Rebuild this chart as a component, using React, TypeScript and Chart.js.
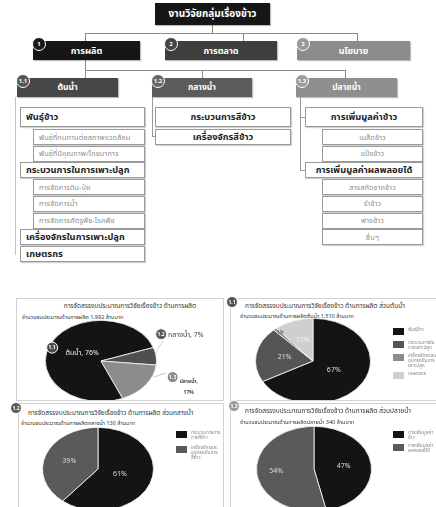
import React, { useEffect, useRef } from "react";
import { Chart, registerables } from "chart.js";

Chart.register(...registerables);

const FONT = '"Noto Sans Thai", "Noto Sans", "DejaVu Sans", sans-serif';

// Production budget split by stage (percent)
const prodParts = ["ต้นน้ำ", "กลางน้ำ", "ปลายน้ำ"];
const prodBadges = ["1.1", "1.2", "1.3"];
const prodShare = [76, 7, 17];

// Upstream split (percent); legend lines per item
const upLegend = [["พันธุ์ข้าว"], ["กระบวนการใน", "การเพาะปลูก"], ["เครื่องจักรกลและ", "อุปกรณ์ในการ", "เพาะปลูก"], ["เกษตรกร"]];
const upShare = [67, 21, 1, 11];

// Midstream split (percent)
const midLegend = [["กระบวนการการ", "การสีข้าว"], ["เครื่องจักรและ", "อุปกรณ์ในการ", "สีข้าว"]];
const midShare = [61, 39];

// Downstream split (percent)
const downLegend = [["การเพิ่มมูลค่า", "ข้าว"], ["การเพิ่มมูลค่า", "ผลพลอยได้"]];
const downShare = [47, 54];

// Budget totals (million baht)
const totalProd = "1,992";
const totalUp = "1,510";
const totalMid = "130";
const totalDown = "340";

// Org chart item lists
const upItems: [string, boolean][] = [
  ["พันธุ์ข้าว", true],
  ["พันธุ์ที่ทนทานต่อสภาพแวดล้อม", false],
  ["พันธุ์ที่มีคุณภาพ/โภชนาการ", false],
  ["กระบวนการในการเพาะปลูก", true],
  ["การจัดการดิน-ปุ๋ย", false],
  ["การจัดการน้ำ", false],
  ["การจัดการศัตรูพืช-โรคพืช", false],
  ["เครื่องจักรในการเพาะปลูก", true],
  ["เกษตรกร", true],
];
const midItems = ["กระบวนการสีข้าว", "เครื่องจักรสีข้าว"];
const downItems: [string, boolean][] = [
  ["การเพิ่มมูลค่าข้าว", true],
  ["เมล็ดข้าว", false],
  ["แป้งข้าว", false],
  ["การเพิ่มมูลค่าผลพลอยได้", true],
  ["สารสกัดจากข้าว", false],
  ["รำข้าว", false],
  ["ฟางข้าว", false],
  ["อื่นๆ", false],
];

type Arc = { x: number; y: number; startAngle: number; endAngle: number; outerRadius: number };

function arcPoint(a: Arc, f: number, k: number) {
  const mid = (a.startAngle + a.endAngle) / 2;
  return { x: a.x + Math.cos(mid) * a.outerRadius * f, y: a.y + Math.sin(mid) * a.outerRadius * f * k };
}

function badge(ctx: CanvasRenderingContext2D, x: number, y: number, r: number, fill: string, text: string) {
  ctx.beginPath();
  ctx.arc(x, y, r, 0, Math.PI * 2);
  ctx.fillStyle = fill;
  ctx.fill();
  ctx.lineWidth = 1;
  ctx.strokeStyle = "#ffffff";
  ctx.stroke();
  ctx.fillStyle = "#ffffff";
  ctx.font = `bold 5px ${FONT}`;
  ctx.textAlign = "center";
  ctx.textBaseline = "middle";
  ctx.fillText(text, x, y + 0.5);
}

type PieProps = {
  values: number[];
  colors: string[];
  rotation: number;
  cx: number;
  cy: number;
  rx: number;
  ry: number;
  width: number;
  height: number;
  drawLabels: (ctx: CanvasRenderingContext2D, arcs: Arc[], k: number) => void;
};

function PieCanvas({ values, colors, rotation, cx, cy, rx, ry, width, height, drawLabels }: PieProps) {
  const ref = useRef<HTMLCanvasElement>(null);
  useEffect(() => {
    const k = ry / rx;
    // flattens the pie into an ellipse around its centre; labels are drawn unflattened
    const squash = {
      id: "squash",
      beforeDatasetsDraw(chart: any) {
        const a: any = chart.getDatasetMeta(0).data[0];
        const ctx = chart.ctx;
        ctx.save();
        ctx.translate(a.x, a.y);
        ctx.scale(1, k);
        ctx.translate(-a.x, -a.y);
      },
      afterDatasetsDraw(chart: any) {
        chart.ctx.restore();
        drawLabels(chart.ctx, chart.getDatasetMeta(0).data as Arc[], k);
      },
    };
    const chart = new Chart(ref.current!, {
      type: "pie",
      data: {
        labels: values.map((_, i) => String(i + 1)),
        datasets: [{ data: values, backgroundColor: colors, borderColor: "#f2f2f2", borderWidth: 1 }],
      },
      options: {
        responsive: false,
        animation: false,
        rotation,
        events: [],
        layout: { padding: { left: cx - rx, right: width - cx - rx, top: cy - rx, bottom: height - cy - rx } },
        plugins: { legend: { display: false }, tooltip: { enabled: false } },
      },
      plugins: [squash],
    });
    return () => chart.destroy();
  }, []);
  return (
    <canvas
      ref={ref}
      width={width}
      height={height}
      style={{ position: "absolute", left: 0, top: 0, width, height }}
    />
  );
}

function insideLabels(texts: string[], colors: string[], factors: number[], sizes: number[]) {
  return (ctx: CanvasRenderingContext2D, arcs: Arc[], k: number) => {
    arcs.forEach((a, i) => {
      const p = arcPoint(a, factors[i], k);
      ctx.font = `${sizes[i]}px ${FONT}`;
      ctx.fillStyle = colors[i];
      ctx.textAlign = "center";
      ctx.textBaseline = "middle";
      ctx.fillText(texts[i], p.x, p.y);
    });
  };
}

// Callout labels for the overall production pie
const prodBadgeColors = ["#4a4a4a", "#5a5a5a", "#8a8a8a"];
function prodLabels(ctx: CanvasRenderingContext2D, arcs: Arc[], k: number) {
  // upstream: white label inside the large slice
  const p0 = arcPoint(arcs[0], 0.45, k);
  ctx.font = `7px ${FONT}`;
  ctx.textAlign = "center";
  ctx.textBaseline = "middle";
  ctx.fillStyle = "#f0f0f0";
  ctx.fillText(`${prodParts[0]}, ${prodShare[0]}%`, p0.x + 4, p0.y);
  badge(ctx, p0.x - 26, p0.y - 6, 5.5, prodBadgeColors[0], prodBadges[0]);

  // midstream: leader line to a label above right
  const e1 = arcPoint(arcs[1], 1, k);
  ctx.strokeStyle = "#c8c8c8";
  ctx.lineWidth = 0.8;
  ctx.beginPath();
  ctx.moveTo(e1.x - 1, e1.y - 2);
  ctx.lineTo(e1.x + 7, e1.y - 16);
  ctx.stroke();
  ctx.font = `7px ${FONT}`;
  ctx.textAlign = "left";
  ctx.fillStyle = "#444";
  ctx.fillText(`${prodParts[1]}, ${prodShare[1]}%`, e1.x + 12, e1.y - 21);
  badge(ctx, e1.x + 5, e1.y - 22, 5.5, prodBadgeColors[1], prodBadges[1]);

  // downstream: leader line to a two-line label to the right
  const e2 = arcPoint(arcs[2], 1, k);
  ctx.strokeStyle = "#c8c8c8";
  ctx.beginPath();
  ctx.moveTo(e2.x + 8, e2.y - 8);
  ctx.lineTo(e2.x + 20, e2.y - 12);
  ctx.stroke();
  ctx.fillStyle = "#444";
  ctx.textAlign = "left";
  ctx.fillText(`${prodParts[2]},`, e2.x + 34, e2.y - 3);
  ctx.textAlign = "center";
  ctx.fillText(`${prodShare[2]}%`, e2.x + 43, e2.y + 8);
  badge(ctx, e2.x + 27, e2.y - 8, 5.5, prodBadgeColors[2], prodBadges[2]);
}

const S: Record<string, React.CSSProperties> = {
  abs: { position: "absolute", boxSizing: "border-box" },
};

function Line({ x, y, w, h, c = "#8a8a8a" }: { x: number; y: number; w: number; h: number; c?: string }) {
  return <div style={{ ...S.abs, left: x, top: y, width: w, height: h, background: c }} />;
}

function Head({ x, y, w, h, bg, text, size, num, numBg }: any) {
  return (
    <>
      <div
        style={{
          ...S.abs, left: x, top: y, width: w, height: h, background: bg, color: "#fff",
          fontSize: size, fontWeight: 700, display: "flex", alignItems: "center", justifyContent: "center",
          boxShadow: "1px 1px 1px rgba(0,0,0,0.25)",
        }}
      >
        {text}
      </div>
      {num && (
        <div
          style={{
            ...S.abs, left: x - 1, top: y - 4, width: 14, height: 14, borderRadius: 7, background: numBg,
            border: "1px solid #fff", color: "#fff", fontSize: 6, fontWeight: 700, display: "flex",
            alignItems: "center", justifyContent: "center",
          }}
        >
          {num}
        </div>
      )}
    </>
  );
}

function Item({ x, y, w, h, text, bold, align }: any) {
  return (
    <div
      style={{
        ...S.abs, left: x, top: y, width: w, height: h, background: "#fff", border: "1px solid #9a9a9a",
        boxShadow: "1px 1px 1px rgba(0,0,0,0.18)", color: bold ? "#1e1e1e" : "#8c8c8c",
        fontSize: bold ? 9.3 : 7.3, fontWeight: bold ? 700 : 400, display: "flex", alignItems: "center",
        justifyContent: align === "left" ? "flex-start" : "center", paddingLeft: align === "left" ? 5 : 0,
        whiteSpace: "nowrap", overflow: "hidden", letterSpacing: bold ? 0 : 0.1,
      }}
    >
      {text}
    </div>
  );
}

function Legend({ x, y, lines, colors, gaps }: { x: number; y: number; lines: string[][]; colors: string[]; gaps: number[] }) {
  return (
    <>
      {lines.map((ls, i) => (
        <React.Fragment key={i}>
          <div style={{ ...S.abs, left: x, top: y + gaps[i], width: 11, height: 7, background: colors[i] }} />
          <div
            style={{
              ...S.abs, left: x + 15, top: y + gaps[i] - 1, fontSize: 4.8, lineHeight: "5px", color: "#8a8a8a",
              whiteSpace: "nowrap",
            }}
          >
            {ls.map((l, j) => (
              <div key={j}>{l}</div>
            ))}
          </div>
        </React.Fragment>
      ))}
    </>
  );
}

function Panel({ x, y, w, h, children }: any) {
  return (
    <div style={{ ...S.abs, left: x, top: y, width: w, height: h, border: "1px solid #d2d2d2", overflow: "hidden", background: "#fff" }}>
      {children}
    </div>
  );
}

function PanelBadge({ x, y, bg, text }: any) {
  return (
    <div
      style={{
        ...S.abs, left: x - 6, top: y - 6, width: 12, height: 12, borderRadius: 6, background: bg,
        border: "1px solid #fff", color: "#fff", fontSize: 5, fontWeight: 700, display: "flex",
        alignItems: "center", justifyContent: "center",
      }}
    >
      {text}
    </div>
  );
}

const titleStyle: React.CSSProperties = { ...S.abs, fontSize: 6.5, color: "#333", whiteSpace: "nowrap", lineHeight: "8px" };
const subStyle: React.CSSProperties = { ...S.abs, fontSize: 5.5, color: "#333", whiteSpace: "nowrap", lineHeight: "7px" };

export default function App() {
  const rowTop = (i: number) => (i === 0 ? 107 : 129 + (i - 1) * 16.7);
  const rowH = (i: number) => (i === 0 ? 20 : 16);
  const pieColors3 = ["#141414", "#4f4f4f", "#8c8c8c"];
  const pieColors4 = ["#141414", "#555555", "#8c8c8c", "#cfcfcf"];
  const pieColors2 = ["#141414", "#5a5a5a"];

  return (
    <div
      style={{
        position: "absolute", left: 0, top: 0, width: 436, height: 507, overflow: "hidden",
        background: "#fff", fontFamily: FONT,
      }}
    >
      {/* connectors of the top tiers */}
      <Line x={212} y={25} w={1} h={8} />
      <Line x={85} y={33} w={273} h={1} />
      <Line x={85} y={33} w={1} h={8} />
      <Line x={243} y={33} w={1} h={8} />
      <Line x={357} y={33} w={1} h={8} />
      <Line x={85} y={60} w={1} h={10} />
      <Line x={85} y={70} w={261} h={1} />
      <Line x={85} y={70} w={1} h={8} />
      <Line x={202} y={70} w={1} h={8} />
      <Line x={345} y={70} w={1} h={8} />

      <Head x={155} y={3} w={115} h={22} bg="#161616" text="งานวิจัยกลุ่มเรื่องข้าว" size={10} />
      <Head x={33} y={41} w={107} h={19} bg="#161616" text="การผลิต" size={9} num="1" numBg="#1a1a1a" />
      <Head x={165} y={41} w={112} h={19} bg="#3e3e3e" text="การตลาด" size={9} num="2" numBg="#444" />
      <Head x={297} y={41} w={113} h={19} bg="#8c8c8c" text="นโยบาย" size={9} num="3" numBg="#999" />

      <Head x={17} y={78} w={101} h={19} bg="#474747" text={prodParts[0]} size={8.5} num="1.1" numBg="#555" />
      <Head x={152} y={78} w={100} h={19} bg="#5c5c5c" text={prodParts[1]} size={8.5} num="1.2" numBg="#666" />
      <Head x={296} y={78} w={101} h={19} bg="#8f8f8f" text={prodParts[2]} size={8.5} num="1.3" numBg="#9c9c9c" />

      {/* upstream items */}
      <Line x={15} y={97} w={1} h={158} c="#c4c4c4" />
      {upItems.map(([t, b], i) => (
        <Item key={t} x={b ? 20 : 33} y={rowTop(i)} w={b ? 125 : 112} h={rowH(i)} text={t} bold={b} align="left" />
      ))}

      {/* midstream items */}
      <Line x={152} y={97} w={1} h={40} c="#9a9a9a" />
      <Line x={152} y={136} w={3} h={1} c="#9a9a9a" />
      {midItems.map((t, i) => (
        <Item key={t} x={155} y={rowTop(i)} w={136} h={rowH(i)} text={t} bold />
      ))}

      {/* downstream items */}
      <Line x={300} y={97} w={1} h={74} c="#9a9a9a" />
      <Line x={300} y={117} w={5} h={1} c="#9a9a9a" />
      <Line x={300} y={170} w={5} h={1} c="#9a9a9a" />
      {downItems.map(([t, b], i) => (
        <Item key={t} x={b ? 305 : 322} y={rowTop(i)} w={b ? 118 : 101} h={rowH(i)} text={t} bold={b} />
      ))}

      {/* overall production pie */}
      <Panel x={16} y={298} w={208} h={103}>
        <div style={{ ...titleStyle, left: 0, width: 206, top: 3, textAlign: "center", paddingLeft: 20 }}>
          การจัดสรรงบประมาณการวิจัยเรื่องข้าว ด้านการผลิต
        </div>
        <div style={{ ...subStyle, left: 5, top: 15 }}>จำนวนงบประมาณด้านการผลิต {totalProd} ล้านบาท</div>
        <PieCanvas
          values={prodShare} colors={pieColors3} rotation={157}
          cx={84} cy={62} rx={56} ry={41} width={206} height={130} drawLabels={prodLabels}
        />
      </Panel>

      {/* upstream pie */}
      <Panel x={230} y={298} w={212} h={103}>
        <div style={{ ...titleStyle, left: 14, top: 3 }}>
          การจัดสรรงบประมาณการวิจัยเรื่องข้าว ด้านการผลิต ส่วนต้นน้ำ
        </div>
        <div style={{ ...subStyle, left: 9, top: 14 }}>จำนวนงบประมาณด้านการผลิตต้นน้ำ {totalUp} ล้านบาท</div>
        <PieCanvas
          values={upShare} colors={pieColors4} rotation={0}
          cx={82} cy={62} rx={58} ry={43} width={210} height={130}
          drawLabels={insideLabels(upShare.map((v) => `${v}%`), ["#dcdcdc", "#dcdcdc", "#444", "#f6f6f6"], [0.42, 0.5, 0.86, 0.52], [7, 7, 4.5, 7])}
        />
        <Legend x={162} y={29} lines={upLegend} colors={pieColors4} gaps={[0, 13, 26, 44]} />
      </Panel>
      <PanelBadge x={232} y={302} bg="#505050" text={prodBadges[0]} />

      {/* midstream pie */}
      <Panel x={18} y={403} w={206} h={110}>
        <div style={{ ...titleStyle, left: 9, top: 5 }}>
          การจัดสรรงบประมาณการวิจัยเรื่องข้าว ด้านการผลิต ส่วนกลางน้ำ
        </div>
        <div style={{ ...subStyle, left: 2, top: 16 }}>จำนวนงบประมาณด้านการผลิตกลางน้ำ {totalMid} ล้านบาท</div>
        <PieCanvas
          values={midShare} colors={pieColors2} rotation={0}
          cx={79} cy={65} rx={56} ry={42} width={204} height={130}
          drawLabels={insideLabels(midShare.map((v) => `${v}%`), ["#dcdcdc", "#dcdcdc"], [0.42, 0.55], [7, 7])}
        />
        <Legend x={157} y={27} lines={midLegend} colors={pieColors2} gaps={[0, 15]} />
      </Panel>
      <PanelBadge x={16} y={408} bg="#5a5a5a" text={prodBadges[1]} />

      {/* downstream pie */}
      <Panel x={230} y={403} w={212} h={110}>
        <div style={{ ...titleStyle, left: 14, top: 3 }}>
          การจัดสรรงบประมาณการวิจัยเรื่องข้าว ด้านการผลิต ส่วนปลายน้ำ
        </div>
        <div style={{ ...subStyle, left: 9, top: 15 }}>จำนวนงบประมาณด้านการผลิตปลายน้ำ {totalDown} ล้านบาท</div>
        <PieCanvas
          values={downShare} colors={pieColors2} rotation={0}
          cx={83} cy={65} rx={58} ry={43} width={210} height={130}
          drawLabels={insideLabels(downShare.map((v) => `${v}%`), ["#dcdcdc", "#dcdcdc"], [0.52, 0.66], [7, 7])}
        />
        <Legend x={162} y={27} lines={downLegend} colors={pieColors2} gaps={[0, 13]} />
      </Panel>
      <PanelBadge x={234} y={406} bg="#9a9a9a" text={prodBadges[2]} />
    </div>
  );
}
